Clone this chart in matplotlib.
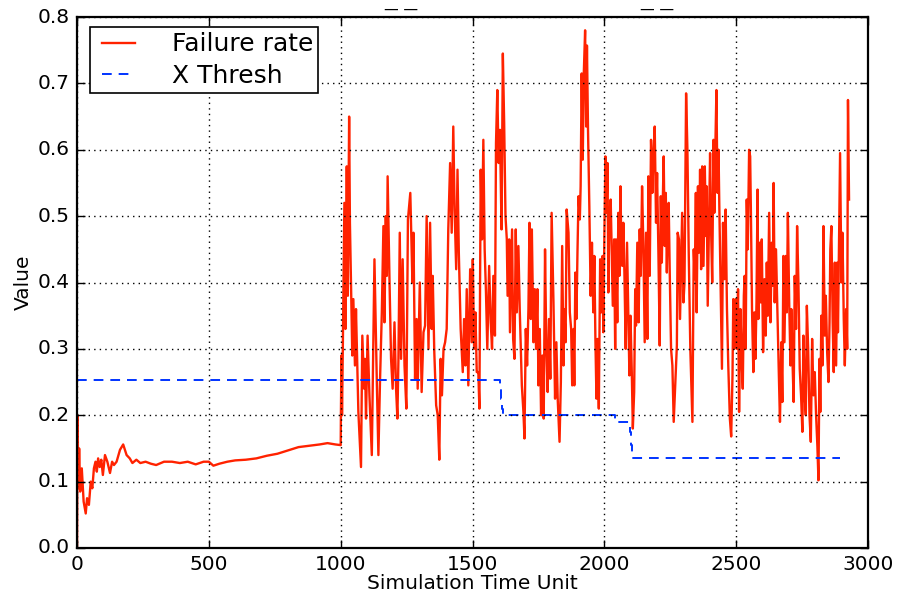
import matplotlib
matplotlib.use('Agg')
import matplotlib.pyplot as plt

# failure rate, warm-up part (0 - 1000)
early_t = [0, 2, 5, 8, 12, 18, 25, 33, 38, 45, 52, 58, 64, 70, 75, 80, 86, 92, 98,
           106, 115, 125, 133, 140, 150, 163, 175, 188, 200, 210, 225, 240, 260,
           280, 300, 330, 360, 390, 420, 450, 480, 500, 517, 540, 570, 600, 640,
           680, 720, 760, 800, 840, 880, 920, 950, 980, 1000]
early_v = [0.0, 0.2, 0.09, 0.15, 0.085, 0.12, 0.07, 0.052, 0.075, 0.065, 0.1, 0.09,
           0.12, 0.13, 0.115, 0.135, 0.122, 0.133, 0.11, 0.14, 0.13, 0.113, 0.13,
           0.125, 0.13, 0.148, 0.156, 0.14, 0.135, 0.128, 0.133, 0.128, 0.13, 0.127,
           0.125, 0.13, 0.13, 0.128, 0.13, 0.126, 0.13, 0.13, 0.124, 0.127, 0.13,
           0.132, 0.133, 0.135, 0.139, 0.142, 0.147, 0.152, 0.154, 0.156, 0.158,
           0.156, 0.155]

# failure rate, noisy part (1000 - 2930)
noisy_t = [1001, 1003, 1005, 1008, 1014, 1018, 1023, 1027, 1032, 1035, 1044, 1048,
           1054, 1058, 1067, 1077, 1082, 1089, 1092, 1096, 1102, 1109, 1118, 1128,
           1137, 1143, 1149, 1156, 1162, 1166, 1171, 1175, 1178, 1185, 1191, 1197,
           1204, 1210, 1215, 1219, 1224, 1229, 1235, 1242, 1249, 1255, 1264, 1272,
           1276, 1282, 1288, 1292, 1300,
           1307, 1314, 1320, 1326, 1333, 1339, 1345, 1349, 1355, 1362, 1368, 1374,
           1379, 1384, 1390, 1396, 1402, 1408, 1415, 1421, 1427, 1432, 1438, 1443,
           1448, 1455, 1463, 1468, 1473, 1478, 1484, 1491, 1497, 1501, 1506, 1511,
           1516, 1522, 1526, 1531, 1536, 1541, 1546, 1551, 1556, 1563, 1569, 1574,
           1579, 1585, 1589, 1594, 1599, 1604, 1610, 1615, 1620, 1625,
           1630, 1633, 1639, 1642, 1646, 1650, 1654, 1659, 1664, 1668, 1674, 1679,
           1687, 1693, 1697, 1702, 1707, 1712, 1716, 1721, 1725, 1731, 1736, 1741,
           1746, 1750, 1755, 1760, 1765, 1770, 1775, 1780, 1785, 1790, 1795, 1800,
           1807, 1813, 1818, 1823, 1830, 1835, 1840, 1845, 1848, 1853, 1857, 1864,
           1869, 1874, 1878, 1883, 1886, 1890, 1894, 1898, 1902, 1907, 1910, 1914,
           1918, 1922, 1927, 1931, 1934, 1938, 1943, 1948, 1953, 1958, 1962,
           1966, 1970, 1974, 1979, 1984, 1988, 1993, 1996, 2000, 2004, 2008, 2012,
           2015, 2019, 2024, 2028, 2032, 2037, 2041, 2044, 2049, 2053, 2057, 2061,
           2065, 2068, 2072, 2076, 2081, 2086, 2091, 2095, 2099, 2104, 2108, 2113,
           2117, 2120, 2125, 2130, 2134, 2138, 2143, 2148, 2153, 2158, 2163, 2167,
           2172, 2177, 2182, 2186, 2191, 2196, 2200, 2205, 2210, 2214, 2218, 2221,
           2225, 2229, 2233, 2237, 2240, 2244, 2248, 2253, 2258, 2263,
           2275, 2278, 2283, 2287, 2291, 2295, 2300, 2304, 2310, 2315, 2320, 2326,
           2334, 2339, 2343, 2347, 2350, 2355, 2359, 2363, 2367, 2371, 2376, 2381,
           2385, 2388, 2392, 2397, 2401, 2405, 2409, 2414, 2417, 2421, 2425, 2429,
           2433, 2436, 2441, 2446, 2450, 2455, 2460, 2465, 2470, 2476, 2481, 2486,
           2489, 2493, 2498, 2503, 2507, 2511, 2516, 2521, 2525, 2529, 2532, 2536,
           2540, 2544, 2549, 2553, 2556, 2560, 2565, 2569, 2573, 2577, 2581, 2584,
           2589, 2593, 2597, 2602,
           2607, 2612, 2616, 2620, 2625, 2630, 2635, 2639, 2642, 2646, 2651, 2656,
           2661, 2666, 2671, 2675, 2679, 2683, 2688, 2692, 2696, 2701, 2706, 2709,
           2714, 2718, 2722, 2727, 2731, 2736, 2741, 2746, 2751, 2755, 2760, 2764,
           2768, 2773, 2778, 2783, 2788, 2793, 2798, 2803, 2808, 2812, 2816, 2819,
           2823, 2827, 2831, 2836, 2840, 2845, 2850, 2854, 2857, 2861, 2866, 2870,
           2874, 2879, 2883, 2886, 2890, 2894, 2899, 2903, 2908, 2912, 2917, 2921,
           2924, 2928]
noisy_v = [0.21, 0.29, 0.2, 0.3, 0.52, 0.33, 0.575, 0.38, 0.65, 0.49, 0.29, 0.375,
           0.275, 0.36, 0.205, 0.122, 0.32, 0.24, 0.285, 0.195, 0.32, 0.23, 0.14, 0.435,
           0.25, 0.14, 0.25, 0.355, 0.485, 0.34, 0.5, 0.41, 0.56, 0.405, 0.285, 0.24,
           0.34, 0.24, 0.195, 0.285, 0.475, 0.285, 0.435, 0.275, 0.21, 0.495, 0.535, 0.4,
           0.475, 0.255, 0.345, 0.24, 0.4,
           0.235, 0.325, 0.335, 0.5, 0.3, 0.49, 0.33, 0.41, 0.295, 0.215, 0.2, 0.133,
           0.285, 0.23, 0.3, 0.31, 0.33, 0.48, 0.58, 0.475, 0.635, 0.51, 0.42, 0.57,
           0.445, 0.33, 0.265, 0.345, 0.275, 0.39, 0.245, 0.42, 0.31, 0.435, 0.3, 0.355,
           0.265, 0.265, 0.21, 0.57, 0.465, 0.615, 0.45, 0.385, 0.3, 0.425, 0.34, 0.3,
           0.41, 0.32, 0.61, 0.69, 0.58, 0.63, 0.48, 0.745, 0.64, 0.5,
           0.465, 0.38, 0.465, 0.325, 0.405, 0.48, 0.315, 0.285, 0.48, 0.355, 0.455, 0.36,
           0.245, 0.205, 0.165, 0.33, 0.275, 0.36, 0.49, 0.345, 0.48, 0.31, 0.39, 0.3,
           0.39, 0.245, 0.33, 0.2, 0.29, 0.195, 0.45, 0.3, 0.235, 0.345, 0.255, 0.505,
           0.37, 0.225, 0.31, 0.225, 0.16, 0.25, 0.455, 0.275, 0.36, 0.31, 0.51, 0.475,
           0.355, 0.33, 0.245, 0.33, 0.245, 0.415, 0.345, 0.445, 0.53, 0.495, 0.545, 0.715,
           0.585, 0.715, 0.78, 0.635, 0.757, 0.63, 0.515, 0.38, 0.46, 0.355, 0.44,
           0.315, 0.225, 0.315, 0.21, 0.435, 0.355, 0.44, 0.325, 0.47, 0.59, 0.505, 0.58,
           0.385, 0.5, 0.525, 0.445, 0.365, 0.465, 0.3, 0.465, 0.34, 0.505, 0.41, 0.545,
           0.44, 0.425, 0.49, 0.415, 0.3, 0.46, 0.35, 0.26, 0.35, 0.265, 0.18, 0.235,
           0.39, 0.335, 0.46, 0.34, 0.48, 0.41, 0.545, 0.455, 0.31, 0.475, 0.315, 0.56,
           0.41, 0.615, 0.535, 0.59, 0.635, 0.49, 0.565, 0.445, 0.305, 0.53, 0.43, 0.51,
           0.59, 0.455, 0.535, 0.415, 0.49, 0.52, 0.415, 0.3, 0.275, 0.19,
           0.305, 0.475, 0.465, 0.345, 0.425, 0.505, 0.37, 0.4, 0.685, 0.6, 0.445, 0.3,
           0.19, 0.45, 0.405, 0.535, 0.355, 0.545, 0.445, 0.57, 0.42, 0.575, 0.425, 0.575,
           0.47, 0.545, 0.365, 0.49, 0.595, 0.475, 0.4, 0.615, 0.505, 0.605, 0.69, 0.535,
           0.6, 0.515, 0.395, 0.27, 0.49, 0.405, 0.51, 0.36, 0.275, 0.195, 0.168, 0.26,
           0.375, 0.3, 0.375, 0.3, 0.39, 0.205, 0.36, 0.28, 0.24, 0.38, 0.41, 0.3,
           0.525, 0.45, 0.6, 0.59, 0.5, 0.36, 0.265, 0.355, 0.285, 0.37, 0.54, 0.345,
           0.46, 0.37, 0.465, 0.295,
           0.405, 0.32, 0.43, 0.35, 0.505, 0.34, 0.46, 0.395, 0.55, 0.37, 0.45, 0.36,
           0.275, 0.19, 0.31, 0.22, 0.44, 0.31, 0.44, 0.355, 0.505, 0.37, 0.275, 0.36,
           0.275, 0.22, 0.41, 0.33, 0.485, 0.4, 0.27, 0.23, 0.175, 0.32, 0.23, 0.2,
           0.365, 0.3, 0.2, 0.16, 0.315, 0.23, 0.265, 0.2, 0.153, 0.102, 0.285, 0.205,
           0.35, 0.275, 0.485, 0.32, 0.38, 0.295, 0.25, 0.34, 0.45, 0.485, 0.34, 0.265,
           0.43, 0.275, 0.43, 0.325, 0.465, 0.595, 0.4, 0.475, 0.345, 0.275, 0.36, 0.3,
           0.675, 0.525]

# threshold steps
thresh_t = [0, 1603, 1607, 1611, 1616, 2040, 2097, 2101, 2105, 2895]
thresh_v = [0.253, 0.24, 0.225, 0.21, 0.2, 0.19, 0.175, 0.155, 0.135, 0.135]

plt.style.use('classic')
plt.rcParams['font.family'] = 'DejaVu Sans'

fig = plt.figure(figsize=(9.01, 5.95), dpi=100, facecolor='white')
ax = fig.add_axes([0.0855, 0.079, 0.8779, 0.8924])

ax.plot(early_t + noisy_t, early_v + noisy_v, color='#ff2200', lw=1.7,
        label='Failure rate')
ax.plot(thresh_t, thresh_v, color='#0033ff', lw=1.4, linestyle='--',
        dashes=(7, 5), drawstyle='steps-post', label='X Thresh')

ax.set_xlim(0, 3000)
ax.set_ylim(0, 0.8)
ax.set_xticks([0, 500, 1000, 1500, 2000, 2500, 3000])
ax.set_yticks([0.0, 0.1, 0.2, 0.3, 0.4, 0.5, 0.6, 0.7, 0.8])
ax.tick_params(labelsize=14.5, direction='in', length=6, width=1,
               top=True, right=True, pad=5)
for s in ax.spines.values():
    s.set_linewidth(1.6)
ax.grid(True, color='k', linestyle=':', lw=1)
ax.set_xlabel('Simulation Time Unit', fontsize=14.5, labelpad=0)
ax.set_ylabel('Value', fontsize=14.5, labelpad=4)

leg = ax.legend(loc='upper left', fontsize=18, handlelength=1.9,
                handletextpad=1.2, borderpad=0.2, labelspacing=0.3,
                bbox_to_anchor=(0.0, 1.004))
leg.get_frame().set_linewidth(1.2)

# cut-off marks at the very top
fig.text(0.445, 0.984, '\u2014 \u2014', fontsize=10.5, ha='center', va='center')
fig.text(0.729, 0.984, '\u2014 \u2014', fontsize=10.5, ha='center', va='center')

fig.savefig('out.png', dpi=100, facecolor='white')
